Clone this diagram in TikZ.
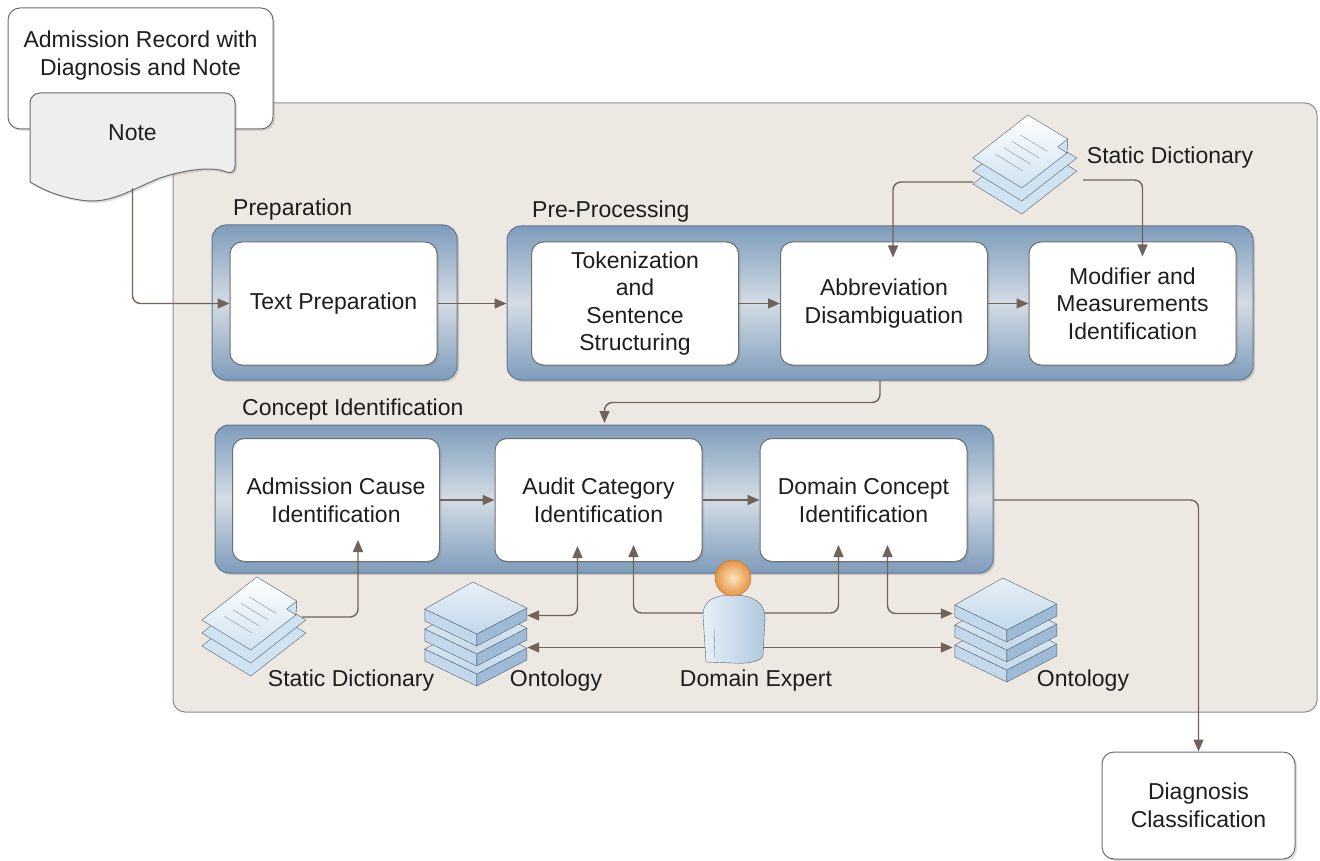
\documentclass[tikz,border=0pt]{standalone}
\usepackage{fontspec}
\setmainfont{Liberation Sans}
\usetikzlibrary{arrows.meta,shadows,calc}
\definecolor{panelbg}{HTML}{EEE8E2}
\definecolor{panelln}{HTML}{8E8E8E}
\definecolor{frameblue}{HTML}{7E9CBB}
\definecolor{framelight}{HTML}{D3DCE5}
\definecolor{frameln}{HTML}{62788F}
\definecolor{boxln}{HTML}{6E6E6E}
\definecolor{conn}{HTML}{6F635A}
\definecolor{txt}{HTML}{1E1E1E}
\definecolor{sheetblue}{HTML}{CFE3F2}
\definecolor{iconln}{HTML}{56616C}
\definecolor{bookdark}{HTML}{9DBBD7}
\definecolor{bookmid}{HTML}{C3D8EA}
\definecolor{booklight}{HTML}{E6F0F8}
\definecolor{headlight}{HTML}{FCE3BE}
\definecolor{headorange}{HTML}{E49443}
\definecolor{headln}{HTML}{B8712E}
\definecolor{notegrey}{HTML}{EEEEEE}
\newcommand\diagfont{\fontsize{23}{27.6}\selectfont}
\tikzset{
    dictpic/.pic={
        \foreach \s in {26,13}
            \draw[iconln,fill=sheetblue,line join=round] (0,\s) -- (55,-43+\s) -- (104,-13+\s) -- (49,30+\s) -- cycle;
        \draw[iconln,top color=white,bottom color=sheetblue,line join=round] (0,0) -- (55,-43) -- (95,-19) -- (94,-5) -- (49,30) -- cycle;
        \draw[iconln,fill=sheetblue,line join=round] (95,-19) -- (85,-11) -- (94,-5) -- cycle;
        \foreach \t in {0.25,0.4,0.55,0.7}
            \draw[iconln!70,thin] ({55*\t+9},{-43*\t+7}) -- ++(27,16.5);
    },
    ontpic/.pic={
        \foreach \s in {40,20,0} {
            \draw[iconln,fill=bookmid,line join=round] (0,\s) -- (52,25+\s) -- (52,37+\s) -- (0,12+\s) -- cycle;
            \draw[iconln,fill=bookdark,line join=round] (52,25+\s) -- (102,-1+\s) -- (102,11+\s) -- (52,37+\s) -- cycle;
            \draw[iconln,top color=booklight,bottom color=bookmid,line join=round] (0,\s) -- (48,-27+\s) -- (102,-1+\s) -- (52,25+\s) -- cycle;
        }
    },
    userpic/.pic={
        \draw[iconln,left color=booklight,right color=bookdark!80,line join=round] (-27,84) -- (-30,37) .. controls (-30,22) and (-18,17) .. (0,17) .. controls (19,17) and (32,24) .. (32,40) -- (30,77) .. controls (29,85) and (7,86) .. (0,85) -- cycle;
        \draw[iconln!80] (-19,50) -- (-18,80);
        \shadedraw[inner color=headlight,outer color=headorange,draw=headln] (0,0) circle (18pt);
    }
}
\begin{document}
\begin{tikzpicture}[x=1pt,y=-1pt,
    every node/.append style={text=txt,font=\diagfont},
    proc/.style={draw=boxln,line width=1pt,fill=white,rounded corners=12pt,minimum width=207pt,minimum height=123pt,align=center,
        drop shadow={shadow xshift=2pt,shadow yshift=-2pt,opacity=.25}},
    grp/.style={draw=frameln,line width=1pt,rounded corners=14pt,top color=frameblue,bottom color=frameblue,middle color=framelight,
        drop shadow={shadow xshift=2pt,shadow yshift=-2pt,opacity=.3}},
    place/.style={inner sep=0,minimum width=#1},
    arr/.style={draw=conn,line width=1.4pt,rounded corners=8pt,-{Triangle[length=12pt,width=10pt]}},
    biarr/.style={arr,{Triangle[length=12pt,width=10pt]}-{Triangle[length=12pt,width=10pt]}}
]
\useasboundingbox (0,0) rectangle (1320,861);
% outer panel
\node[draw=panelln,line width=1pt,fill=panelbg,rounded corners=12pt,minimum width=1144pt,minimum height=609pt,inner sep=0] (panel) at (745,407.5) {};
% input record and note
\node[draw=boxln,line width=1pt,fill=white,rounded corners=12pt,minimum width=265pt,minimum height=121pt,
    drop shadow={shadow xshift=2pt,shadow yshift=-2pt,opacity=.25},
    label={[align=center,anchor=north,yshift=-20pt]north:{Admission Record with\\Diagnosis and Note}}] (rec) at (140.5,68.5) {};
\draw[draw=boxln,line width=1pt,fill=notegrey,drop shadow={shadow xshift=2pt,shadow yshift=-2pt,opacity=.25}]
    (30,182) [rounded corners=10pt] -- (30,93) -- (235,93) -- (235,176) [sharp corners]
    .. controls (215,167) and (190,168) .. (160,178) .. controls (130,190) and (110,205) .. (80,200)
    .. controls (55,196) and (40,188) .. (30,182) -- cycle;
\node[minimum width=205pt,minimum height=110pt,inner sep=0] (note) at (132.5,133) {Note};
% group labels
\node[anchor=west,inner sep=0] (prepL) at (233,210) {Preparation};
\node[anchor=west,inner sep=0] (preL) at (532,212) {Pre-Processing};
\node[anchor=west,inner sep=0] (conL) at (242,410) {Concept Identification};
% groups
\node[grp,minimum width=245pt,minimum height=155pt] (prepF) at (334.5,302.5) {};
\node[grp,minimum width=746pt,minimum height=154pt] (preF) at (880,303) {};
\node[grp,minimum width=778pt,minimum height=148pt] (conF) at (604,499) {};
% steps
\node[proc] (tprep) at (333.5,303.5) {Text Preparation};
\node[proc] (tok) at (635,303.5) {Tokenization\\and\\Sentence\\Structuring};
\node[proc] (abbr) at (884,303.5) {Abbreviation\\Disambiguation};
\node[proc] (modi) at (1132.5,303.5) {Modifier and\\Measurements\\Identification};
\node[proc] (adm) at (336,500) {Admission Cause\\Identification};
\node[proc] (aud) at (598.5,500) {Audit Category\\Identification};
\node[proc] (dom) at (863.5,500) {Domain Concept\\Identification};
\node[proc,minimum width=193pt,minimum height=107pt] (diag) at (1198.5,805.5) {Diagnosis\\Classification};
% resources
\node[place=110pt,minimum height=100pt] (dictT) at (1028,165) {};
\node[place=110pt,minimum height=100pt] (dictB) at (257,627) {};
\node[place=104pt,minimum height=103pt] (ontL) at (475,633.5) {};
\node[place=105pt,minimum height=107pt] (ontR) at (1005.5,631.5) {};
\node[place=62pt,minimum height=106pt] (exp) at (734,610) {};
\node (dictTL) at (1170,158) {Static Dictionary};
\node (dictBL) at (351,681) {Static Dictionary};
\node (ontLL) at (556,681) {Ontology};
\node (ontRL) at (1083,681) {Ontology};
\node (expL) at (756,681) {Domain Expert};
% flow
\draw[arr] (note.south) |- (tprep.west);
\draw[arr] (tprep.east) -- (tprep.east -| preF.west);
\draw[arr] (tok.east) -- (abbr.west);
\draw[arr] (abbr.east) -- (modi.west);
\draw[arr] ($(dictT.west)+(0,17)$) -| ($(abbr.north)+(9,16)$);
\draw[arr] ($(dictT.east)+(0,15)$) -| ($(modi.north)+(10,15)$);
\draw[arr] ($(abbr.south)+(-4,15)$) -- ++(0,22) -| ($(aud.north)+(6,-15)$);
\draw[arr] (adm.east) -- (aud.west);
\draw[arr] (aud.east) -- (dom.west);
\draw[arr] ($(dictB.east)+(-10,-10)$) -| ($(adm.south)+(22,-22)$);
\draw[biarr] ($(ontL.east)+(0,-18)$) -| ($(aud.south)+(-21,-16)$);
\draw[arr] ($(exp.west)+(0,3)$) -| ($(aud.south)+(35,-17)$);
\draw[arr] ($(exp.east)+(0,3)$) -| ($(dom.south)+(-25,-17)$);
\draw[biarr] ($(ontR.west)+(0,-18)$) -| ($(dom.south)+(24,-17)$);
\draw[biarr] ($(ontL.east)+(0,14)$) -- ($(ontR.west)+(0,16)$);
\draw[arr] (dom.east -| conF.east) -| (diag.north);
% icons
\pic at ($(dictT.west)+(0,-7)$) {dictpic};
\pic at ($(dictB.west)+(0,-7)$) {dictpic};
\pic at ($(ontL.west)+(2,-24.5)$) {ontpic};
\pic at ($(ontR.west)+(2,-26.5)$) {ontpic};
\pic at ($(exp)+(-1,-32)$) {userpic};
\end{tikzpicture}
\end{document}
